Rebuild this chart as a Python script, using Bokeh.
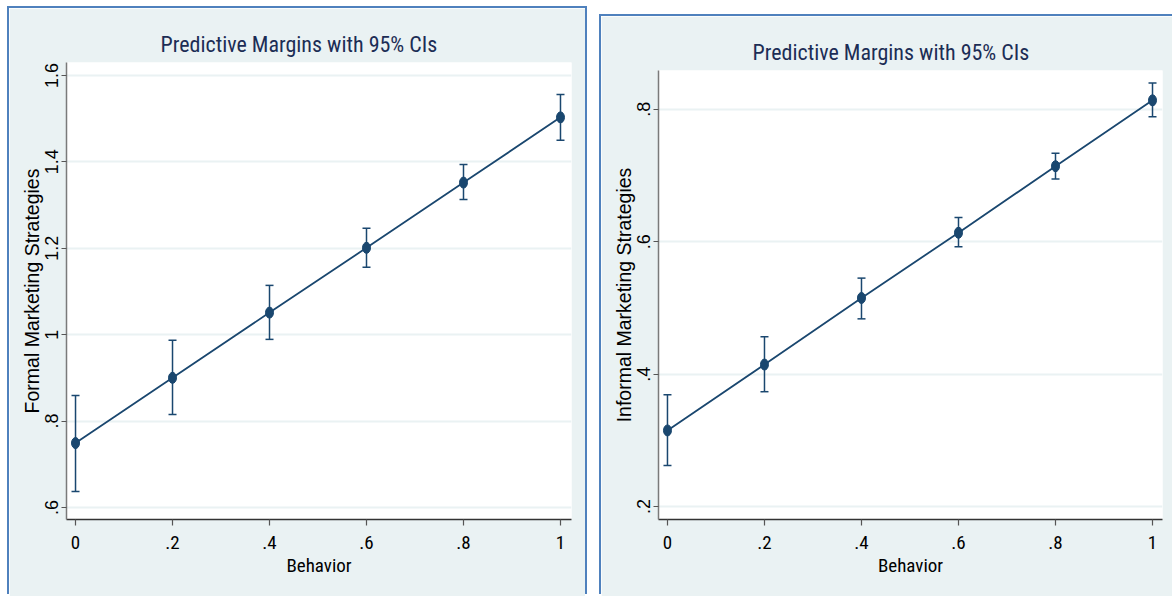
from bokeh.plotting import figure
from bokeh.models import Range1d, FixedTicker, Whisker, ColumnDataSource, TeeHead
from bokeh.layouts import row
from bokeh.embed import file_html
from bokeh.resources import INLINE

# ---------------- data ----------------
behavior = [0.0, 0.2, 0.4, 0.6, 0.8, 1.0]

formal_margin = [0.749, 0.900, 1.051, 1.201, 1.352, 1.503]
formal_lower = [0.637, 0.815, 0.989, 1.156, 1.313, 1.450]
formal_upper = [0.859, 0.987, 1.114, 1.246, 1.394, 1.556]

informal_margin = [0.315, 0.4145, 0.515, 0.6135, 0.714, 0.8135]
informal_lower = [0.262, 0.3735, 0.4835, 0.5925, 0.6945, 0.7885]
informal_upper = [0.369, 0.4565, 0.545, 0.6365, 0.7335, 0.8395]

x_ticks = [0.0, 0.2, 0.4, 0.6, 0.8, 1.0]
x_tick_labels = ["0", ".2", ".4", ".6", ".8", "1"]

formal_y_ticks = [0.6, 0.8, 1.0, 1.2, 1.4, 1.6]
formal_y_tick_labels = [".6", ".8", "1", "1.2", "1.4", "1.6"]

informal_y_ticks = [0.2, 0.4, 0.6, 0.8]
informal_y_tick_labels = [".2", ".4", ".6", ".8"]

title_text = "Predictive Margins with 95% CIs"
x_label = "Behavior"
formal_label = "Formal Marketing Strategies"
informal_label = "Informal Marketing Strategies"

# ---------------- style ----------------
NAVY = "#1a476f"
BG = "#eaf2f3"
BORDER = "#4f81bd"
TITLE_C = "#1c2d55"
NARROW = "Roboto Condensed, Liberation Sans Narrow, Arial Narrow, Liberation Sans"
REG = "Liberation Sans"


def make_panel(ylabel, margin, lower, upper, yticks, ylabels, yr, xr,
               width, height, borders, shadow, title_offset):
    p = figure(width=width, height=height, output_backend="svg",
               toolbar_location=None, x_range=Range1d(*xr), y_range=Range1d(*yr),
               min_border_left=borders[0], min_border_right=borders[1],
               min_border_top=borders[2], min_border_bottom=borders[3])
    p.background_fill_color = "white"
    p.border_fill_color = BG
    p.outline_line_color = None
    p.styles = {"box-shadow": shadow}

    p.title.text = title_text
    p.title.align = "left"
    p.title.offset = title_offset
    p.title.standoff = 12
    p.title.text_font = NARROW
    p.title.text_font_size = "22px"
    p.title.text_font_style = "normal"
    p.title.text_color = TITLE_C

    src = ColumnDataSource(dict(x=behavior, y=margin, lower=lower, upper=upper))

    p.line("x", "y", source=src, line_color=NAVY, line_width=1.8)
    w = Whisker(source=src, base="x", lower="lower", upper="upper",
                line_color=NAVY, line_width=1.5,
                upper_head=TeeHead(size=8, line_color=NAVY, line_width=1.5),
                lower_head=TeeHead(size=8, line_color=NAVY, line_width=1.5))
    p.add_layout(w)
    p.ellipse("x", "y", source=src, width=8, height=11,
              width_units="screen", height_units="screen",
              fill_color=NAVY, line_color=NAVY)

    # grid
    p.xgrid.grid_line_color = None
    p.ygrid.grid_line_color = BG
    p.ygrid.grid_line_width = 2

    # x axis
    xa = p.xaxis[0]
    xa.ticker = FixedTicker(ticks=x_ticks)
    xa.major_label_overrides = dict(zip(x_ticks, x_tick_labels))
    xa.axis_label = x_label
    xa.axis_label_text_font = NARROW
    xa.axis_label_text_font_size = "19px"
    xa.axis_label_text_font_style = "normal"
    xa.axis_label_text_color = "black"
    xa.axis_label_standoff = 2
    xa.major_label_text_font = NARROW
    xa.major_label_text_font_size = "19px"
    xa.major_label_text_color = "black"
    xa.major_label_standoff = 10
    xa.axis_line_color = "#333333"
    xa.axis_line_width = 1.5
    xa.major_tick_line_color = "#555555"
    xa.major_tick_line_width = 1.2
    xa.major_tick_out = 6
    xa.major_tick_in = 0
    xa.minor_tick_line_color = None

    # y axis
    ya = p.yaxis[0]
    ya.ticker = FixedTicker(ticks=yticks)
    ya.major_label_overrides = dict(zip(yticks, ylabels))
    ya.major_label_orientation = "vertical"
    ya.axis_label = ylabel
    ya.axis_label_text_font = REG
    ya.axis_label_text_font_size = "19.5px"
    ya.axis_label_text_font_style = "normal"
    ya.axis_label_text_color = "black"
    ya.axis_label_standoff = 0
    ya.major_label_text_font = REG
    ya.major_label_text_font_size = "18px"
    ya.major_label_text_color = "black"
    ya.major_label_standoff = 3
    ya.axis_line_color = "#7a7a7a"
    ya.axis_line_width = 1.5
    ya.major_tick_line_color = "#555555"
    ya.major_tick_line_width = 1.2
    ya.major_tick_out = 5
    ya.major_tick_in = 0
    ya.minor_tick_line_color = None
    return p


left_shadow = f"-2px -2px 0 0 {BORDER}, 2px -2px 0 0 {BORDER}"
right_shadow = f"-2px -2px 0 0 {BORDER}, 0 -2px 0 0 {BORDER}"

p1 = make_panel(formal_label, formal_margin, formal_lower, formal_upper,
                formal_y_ticks, formal_y_tick_labels,
                (0.572, 1.630), (-0.0186, 1.0227),
                576, 588, (57, 14, 54, 77), left_shadow, 94)
p1.margin = (8, 0, 0, 9)

p2 = make_panel(informal_label, informal_margin, informal_lower, informal_upper,
                informal_y_ticks, informal_y_tick_labels,
                (0.1805, 0.8585), (-0.0185, 1.0206),
                571, 580, (57, 10, 53, 75), right_shadow, 94)
p2.margin = (16, 0, 0, 0)

layout = row(p1, p2, spacing=16)

open("out.html", "w").write(file_html(layout, INLINE))
